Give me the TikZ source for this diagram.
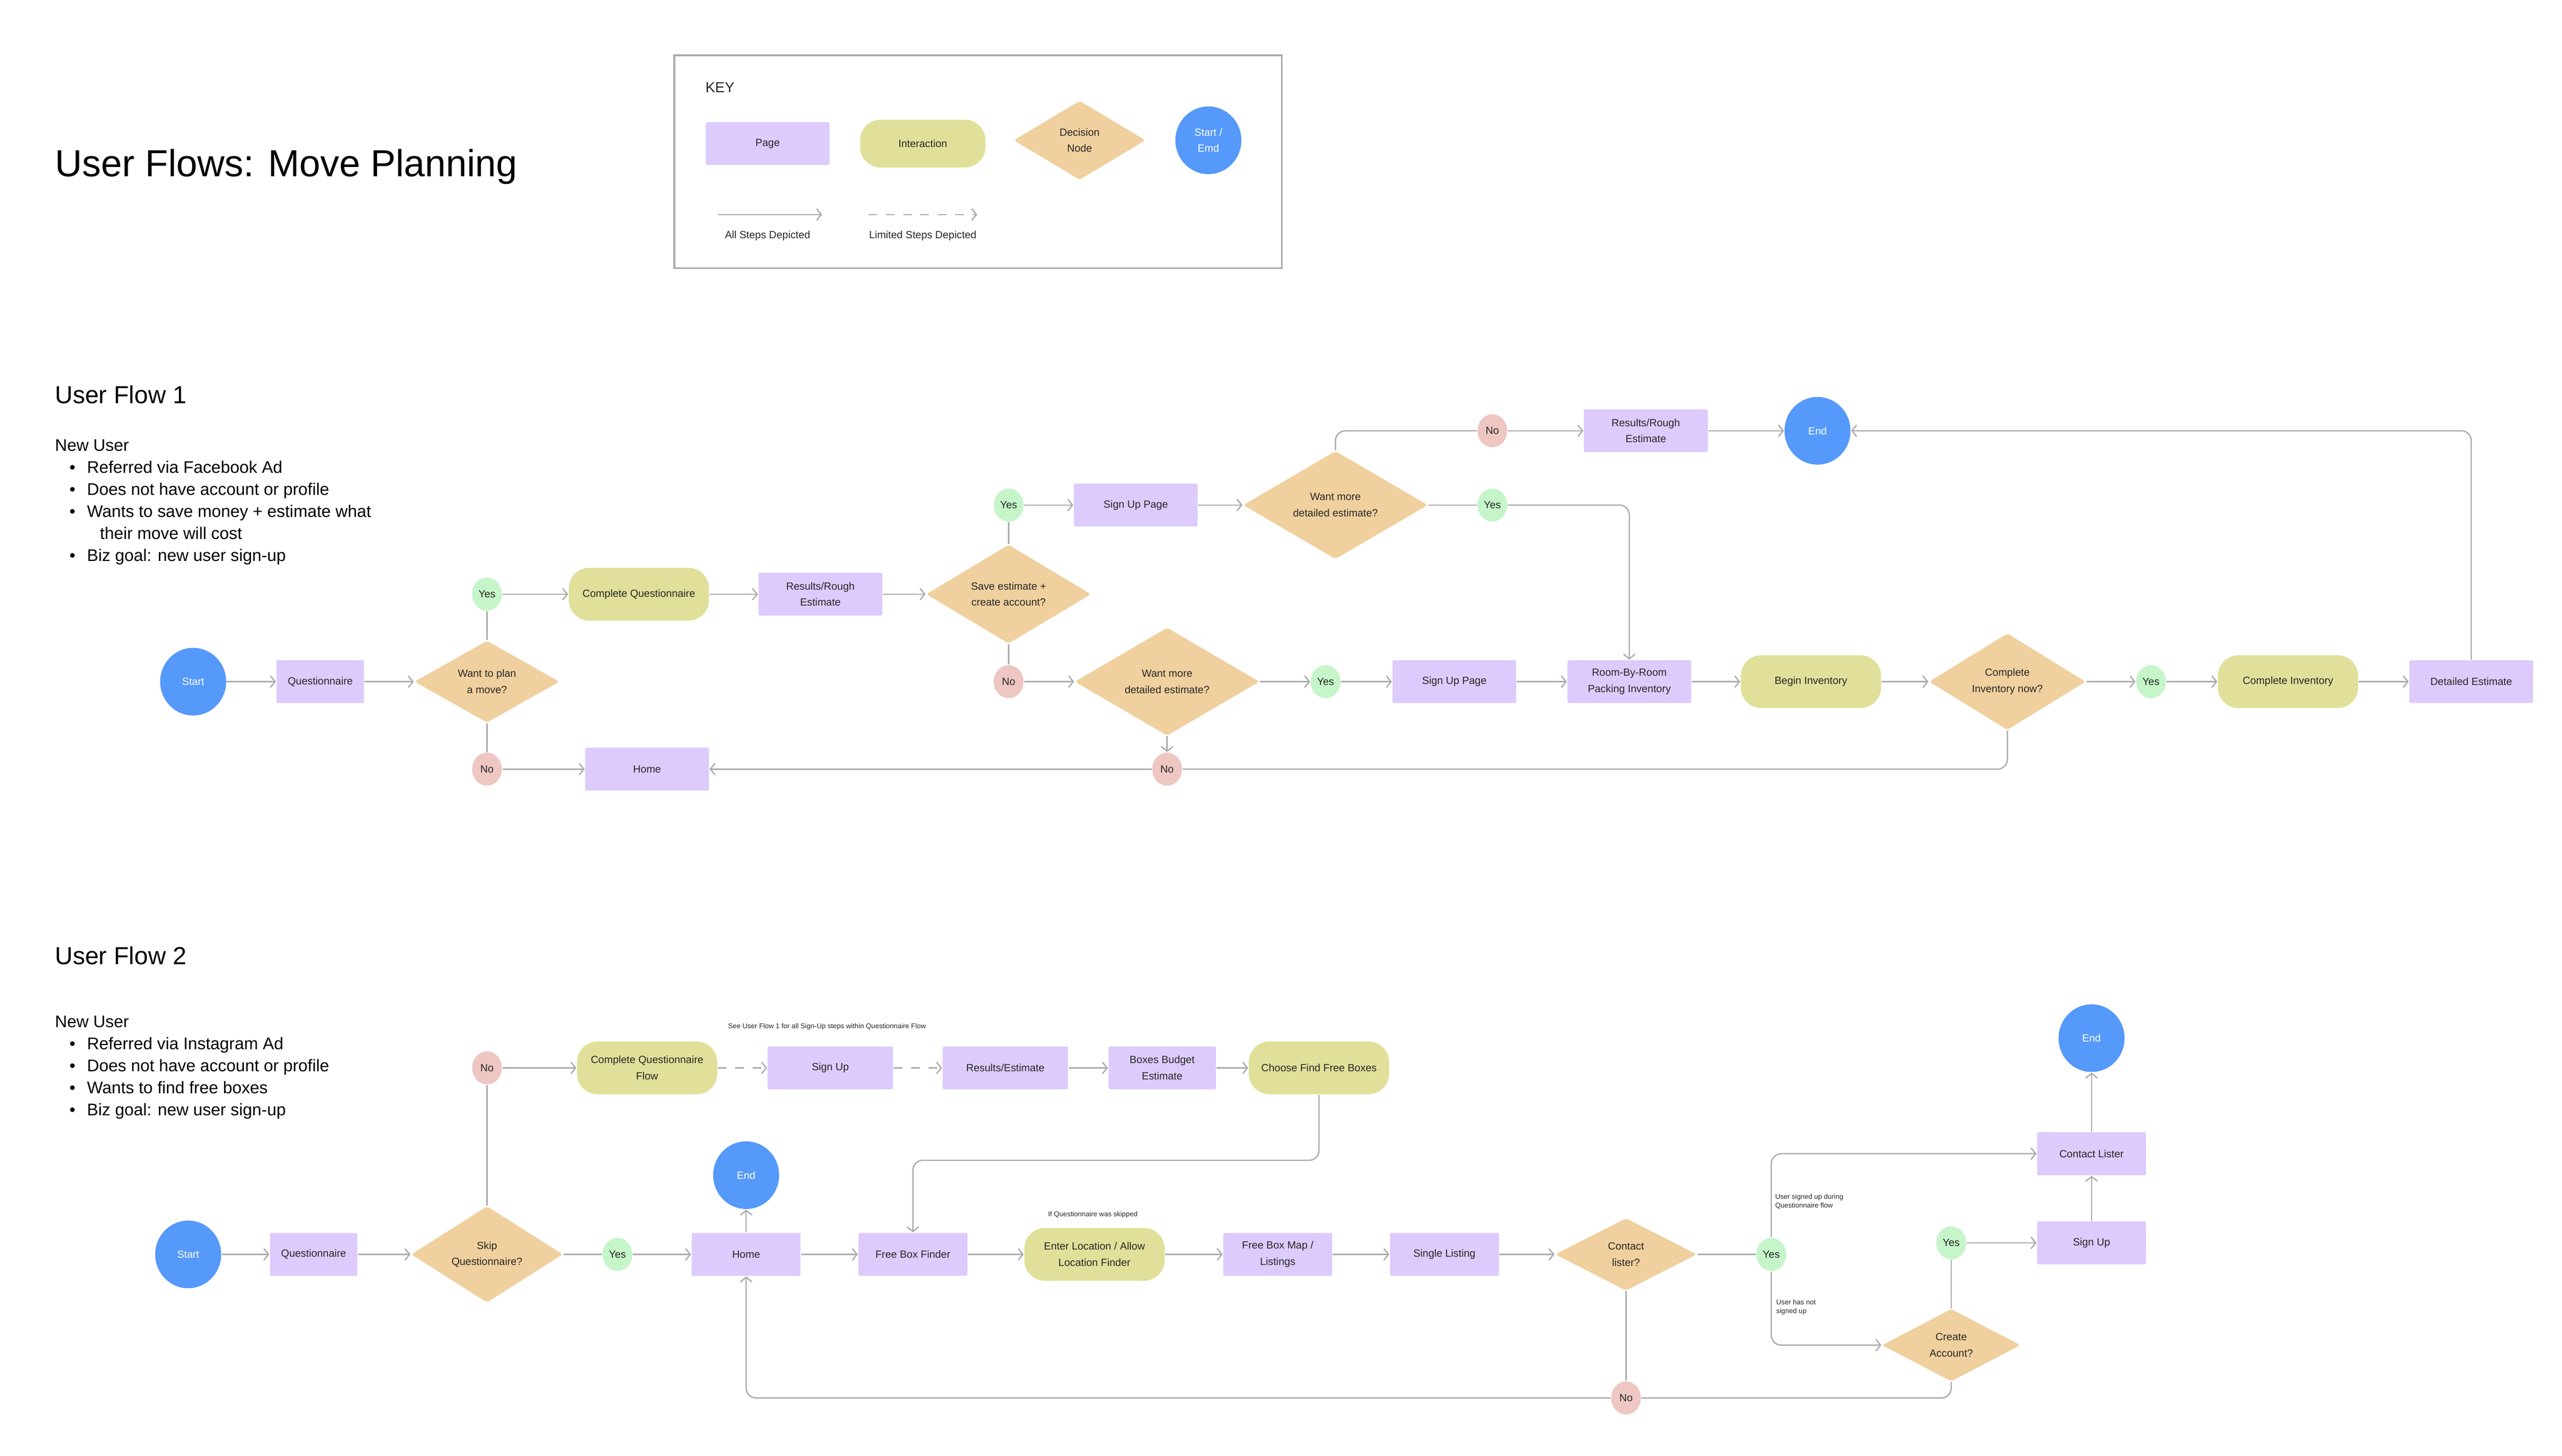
\documentclass[tikz,border=0pt]{standalone}
\usepackage{fontspec}
\setmainfont{Liberation Sans}
\usetikzlibrary{shapes.geometric,arrows.meta}
\definecolor{pagec}{HTML}{DCCBFC}
\definecolor{interc}{HTML}{E0E09A}
\definecolor{decc}{HTML}{F0D09E}
\definecolor{endc}{HTML}{5599FA}
\definecolor{yesc}{HTML}{C5F5C8}
\definecolor{noc}{HTML}{EEC6C2}
\definecolor{linec}{HTML}{ABABAB}
\begin{document}
\begin{tikzpicture}[x=0.02cm,y=-0.02cm,
  every node/.style={font=\fontsize{3.6}{4.6}\selectfont, text=black!85, align=center, inner sep=0pt},
  page/.style={fill=pagec, minimum width=1.5cm, minimum height=0.52cm, rounded corners=0.5pt},
  inter/.style={fill=interc, minimum width=1.7cm, minimum height=0.64cm, rounded corners=0.25cm},
  dec/.style={diamond, fill=decc, minimum width=1.76cm, minimum height=0.92cm, rounded corners=1pt},
  se/.style={ellipse, fill=endc, minimum width=0.8cm, minimum height=0.82cm, text=white},
  yes/.style={ellipse, fill=yesc, minimum width=0.36cm, minimum height=0.4cm},
  no/.style={ellipse, fill=noc, minimum width=0.36cm, minimum height=0.4cm},
  ln/.style={draw=linec, line width=0.45pt, rounded corners=0.12cm},
  ar/.style={ln, -{Straight Barb[length=1.6pt,width=4pt]}},
  da/.style={ar, dashed},
  note/.style={font=\fontsize{2.4}{3}\selectfont, align=left},
  txt/.style={font=\fontsize{5.8}{7.6}\selectfont, align=left, anchor=north west, text=black}]
\useasboundingbox (0,0) rectangle (1552,882);
% Title
\node[anchor=west, font=\fontsize{13}{15}\selectfont, text=black] (title) at (33,101) {User Flows: Move Planning};
% Key
\node[draw=linec, line width=0.6pt, minimum width=7.36cm, minimum height=2.58cm, anchor=north west] (keybox) at (408,33) {};
\node[anchor=west, font=\fontsize{5}{6}\selectfont] (keyt) at (427,53) {KEY};
\node[page] (kpage) at (465,87) {Page};
\node[inter, minimum width=1.52cm, minimum height=0.58cm] (kint) at (559,87) {Interaction};
\node[dec, minimum width=1.6cm, minimum height=0.96cm] (kdec) at (654,85) {Decision\\[1pt]Node};
\node[se] (kse) at (732,85) {Start /\\[1pt]Emd};
\coordinate (ka1) at (435,130); \coordinate (ka2) at (498,130);
\coordinate (kb1) at (526,130); \coordinate (kb2) at (592,130);
\draw[ar] (ka1) -- (ka2);
\draw[da] (kb1) -- (kb2);
\node (kl1) at (465,143) {All Steps Depicted};
\node (kl2) at (559,143) {Limited Steps Depicted};

% User Flow 1 text
\node[anchor=west, font=\fontsize{8.5}{10}\selectfont, text=black] (uf1) at (33,239) {User Flow 1};
\node[txt] (uf1t) at (33,266) {New User\\
\hspace*{5pt}\textbullet\hspace{4pt}Referred via Facebook Ad\\
\hspace*{5pt}\textbullet\hspace{4pt}Does not have account or profile\\
\hspace*{5pt}\textbullet\hspace{4pt}Wants to save money + estimate what\\
\hspace*{15.5pt}their move will cost\\
\hspace*{5pt}\textbullet\hspace{4pt}Biz goal: new user sign-up};

% Flow 1 nodes
\node[se] (s1) at (117,413) {Start};
\node[page, minimum width=1.06cm] (q1) at (194,413) {Questionnaire};
\node[dec] (d1) at (295,413) {Want to plan\\[1pt]a move?};
\node[yes] (y1) at (295,360) {Yes};
\node[no] (n1) at (295,466) {No};
\node[inter] (cq1) at (387,360) {Complete Questionnaire};
\node[page] (rr1) at (497,360) {Results/Rough\\[1pt]Estimate};
\node[dec, minimum width=2cm] (d2) at (611,360) {Save estimate +\\[1pt]create account?};
\node[yes] (y2) at (611,306) {Yes};
\node[no] (n2) at (611,413) {No};
\node[page] (su1) at (688,306) {Sign Up Page};
\node[dec, minimum width=2.24cm] (d3) at (809,306) {Want more\\[1pt]detailed estimate?};
\node[no] (n3) at (904,261) {No};
\node[yes] (y3) at (904,306) {Yes};
\node[page] (rr2) at (997,261) {Results/Rough\\[1pt]Estimate};
\node[se] (e1) at (1101,261) {End};
\node[dec, minimum width=2.24cm] (d4) at (707,413) {Want more\\[1pt]detailed estimate?};
\node[yes] (y4) at (803,413) {Yes};
\node[page] (su2) at (881,413) {Sign Up Page};
\node[page] (rm) at (987,413) {Room-By-Room\\[1pt]Packing Inventory};
\node[inter] (bi) at (1097,413) {Begin Inventory};
\node[dec, minimum width=1.9cm] (d5) at (1216,413) {Complete\\[1pt]Inventory now?};
\node[yes] (y5) at (1303,413) {Yes};
\node[inter] (ci) at (1386,413) {Complete Inventory};
\node[page] (de) at (1497,413) {Detailed Estimate};
\node[no] (n4) at (707,466) {No};
\node[page] (h1) at (392,466) {Home};

% Flow 1 edges
\draw[ar] (s1) -- (q1);
\draw[ar] (q1) -- (d1);
\draw[ln] (d1.north) -- (y1);
\draw[ln] (d1.south) -- (n1);
\draw[ar] (y1) -- (cq1);
\draw[ar] (cq1) -- (rr1);
\draw[ar] (rr1) -- (d2);
\draw[ln] (d2.north) -- (y2);
\draw[ln] (d2.south) -- (n2);
\draw[ar] (y2) -- (su1);
\draw[ar] (su1) -- (d3);
\draw[ln] (d3.north) |- (n3);
\draw[ar] (n3) -- (rr2);
\draw[ar] (rr2) -- (e1);
\draw[ln] (d3) -- (y3);
\draw[ar] (y3) -| (rm.north);
\draw[ar] (n2) -- (d4);
\draw[ar] (d4) -- (y4);
\draw[ar] (y4) -- (su2);
\draw[ar] (su2) -- (rm);
\draw[ar] (rm) -- (bi);
\draw[ar] (bi) -- (d5);
\draw[ar] (d5) -- (y5);
\draw[ar] (y5) -- (ci);
\draw[ar] (ci) -- (de);
\draw[ar] (de.north) |- (e1);
\draw[ar] (d4.south) -- (n4);
\draw[ln] (d5.south) |- (n4);
\draw[ar] (n4) -- (h1);
\draw[ar] (n1) -- (h1);

% User Flow 2 text
\node[anchor=west, font=\fontsize{8.5}{10}\selectfont, text=black] (uf2) at (33,579) {User Flow 2};
\node[txt] (uf2t) at (33,615) {New User\\
\hspace*{5pt}\textbullet\hspace{4pt}Referred via Instagram Ad\\
\hspace*{5pt}\textbullet\hspace{4pt}Does not have account or profile\\
\hspace*{5pt}\textbullet\hspace{4pt}Wants to find free boxes\\
\hspace*{5pt}\textbullet\hspace{4pt}Biz goal: new user sign-up};

% Flow 2 nodes
\node[se] (s2) at (114,760) {Start};
\node[page, minimum width=1.06cm] (q2) at (190,760) {Questionnaire};
\node[dec, minimum width=1.84cm, minimum height=0.88cm] (d6) at (295,760) {Skip\\[1pt]Questionnaire?};
\node[no] (n6) at (295,647) {No};
\node[inter] (cqf) at (392,647) {Complete Questionnaire\\[1pt]Flow};
\node[note] (nt1) at (501,622) {See User Flow 1 for all Sign-Up steps within Questionnaire Flow};
\node[page, minimum width=1.52cm] (su3) at (503,647) {Sign Up};
\node[page, minimum width=1.52cm] (re) at (609,647) {Results/Estimate};
\node[page, minimum width=1.3cm] (bb) at (704,647) {Boxes Budget\\[1pt]Estimate};
\node[inter] (cf) at (799,647) {Choose Find Free Boxes};
\node[yes] (y6) at (374,760) {Yes};
\node[page, minimum width=1.32cm] (h2) at (452,760) {Home};
\node[se] (e2) at (452,712) {End};
\node[page, minimum width=1.32cm] (fbf) at (553,760) {Free Box Finder};
\node[inter] (el) at (663,760) {Enter Location / Allow\\[1pt]Location Finder};
\node[note] (nt2) at (662,736) {If Questionnaire was skipped};
\node[page, minimum width=1.32cm] (fbm) at (774,760) {Free Box Map /\\[1pt]Listings};
\node[page, minimum width=1.32cm] (sl) at (875,760) {Single Listing};
\node[dec, minimum width=1.72cm, minimum height=0.88cm] (d7) at (985,760) {Contact\\[1pt]lister?};
\node[yes] (y7) at (1073,760) {Yes};
\node[page, minimum width=1.32cm] (cl) at (1267,699) {Contact Lister};
\node[dec, minimum width=1.68cm, minimum height=0.88cm] (d8) at (1182,815) {Create\\[1pt]Account?};
\node[yes] (y8) at (1182,753) {Yes};
\node[page, minimum width=1.32cm] (su4) at (1267,753) {Sign Up};
\node[se] (e3) at (1267,629) {End};
\node[no] (n7) at (985,847) {No};
\node[note] (nt3) at (1096,728) {User signed up during\\Questionnaire flow};
\node[note] (nt4) at (1088,792) {User has not\\signed up};

% Flow 2 edges
\draw[ar] (s2) -- (q2);
\draw[ar] (q2) -- (d6);
\draw[ln] (d6.north) -- (n6);
\draw[ar] (n6) -- (cqf);
\draw[da] (cqf) -- (su3);
\draw[da] (su3) -- (re);
\draw[ar] (re) -- (bb);
\draw[ar] (bb) -- (cf);
\coordinate (c1) at (799,703);
\draw[ar] (cf.south) -- (c1) -| (fbf.north);
\draw[ln] (d6) -- (y6);
\draw[ar] (y6) -- (h2);
\draw[ar] (h2) -- (e2);
\draw[ar] (h2) -- (fbf);
\draw[ar] (fbf) -- (el);
\draw[ar] (el) -- (fbm);
\draw[ar] (fbm) -- (sl);
\draw[ar] (sl) -- (d7);
\draw[ln] (d7) -- (y7);
\draw[ar] (y7.north) |- (cl);
\draw[ar] (y7.south) |- (d8);
\draw[ln] (d8.north) -- (y8);
\draw[ar] (y8) -- (su4);
\draw[ar] (su4) -- (cl);
\draw[ar] (cl) -- (e3);
\draw[ln] (d7.south) -- (n7);
\draw[ln] (d8.south) |- (n7);
\draw[ar] (n7) -| (h2.south);
\end{tikzpicture}
\end{document}
